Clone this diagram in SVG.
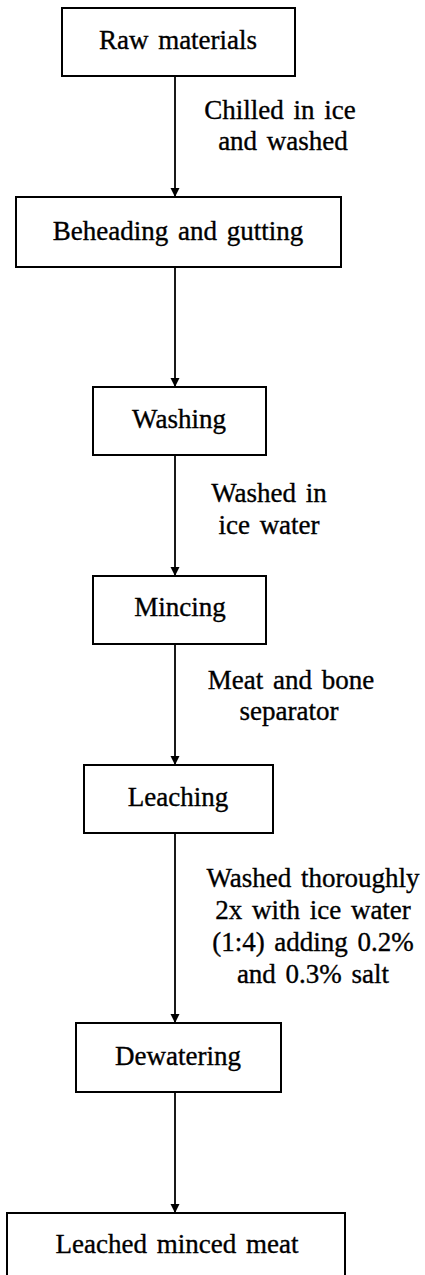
<svg xmlns="http://www.w3.org/2000/svg" width="425" height="1275" viewBox="0 0 425 1275">
  <style>
    .box { fill: #fff; stroke: #000; stroke-width: 2; }
    .lbl { font-family: "Liberation Serif", "Times New Roman", serif; font-size: 27px; fill: #000; stroke: #000; stroke-width: 0.35; text-anchor: middle; word-spacing: 3px; }
    .note { font-family: "Liberation Serif", "Times New Roman", serif; font-size: 27px; fill: #000; stroke: #000; stroke-width: 0.35; text-anchor: middle; word-spacing: 3px; }
    .conn { stroke: #000; stroke-width: 1.8; fill: none; marker-end: url(#arrow); }
  </style>
  <defs>
    <marker id="arrow" viewBox="0 0 10 10" refX="10" refY="5" markerUnits="userSpaceOnUse" markerWidth="9" markerHeight="11" orient="auto">
      <path d="M0,0 L10,5 L0,10 Z" fill="#000"/>
    </marker>
  </defs>
  <rect width="425" height="1275" fill="#fff"/>

  <!-- process-flow connectors -->
  <g id="connectors">
    <line class="conn" x1="175" y1="76" x2="175" y2="197"/>
    <line class="conn" x1="175" y1="267" x2="175" y2="387"/>
    <line class="conn" x1="175" y1="455" x2="175" y2="576"/>
    <line class="conn" x1="175" y1="644" x2="175" y2="765"/>
    <line class="conn" x1="175" y1="833" x2="175" y2="1023"/>
    <line class="conn" x1="175" y1="1092" x2="175" y2="1213"/>
  </g>

  <!-- step annotations -->
  <g id="notes">
    <text class="note" x="280" y="119">Chilled in ice</text>
    <text class="note" x="283" y="150">and washed</text>
    <text class="note" x="269" y="502">Washed in</text>
    <text class="note" x="269" y="534">ice water</text>
    <text class="note" x="291" y="689">Meat and bone</text>
    <text class="note" x="289" y="720">separator</text>
    <text class="note" x="313" y="887">Washed thoroughly</text>
    <text class="note" x="313" y="919">2x with ice water</text>
    <text class="note" x="313" y="951">(1:4) adding 0.2%</text>
    <text class="note" x="313" y="983">and 0.3% salt</text>
  </g>

  <!-- process steps -->
  <g id="raw-materials">
    <rect class="box" x="62" y="8" width="233" height="68"/>
    <text class="lbl" x="178" y="49">Raw materials</text>
  </g>
  <g id="beheading">
    <rect class="box" x="16" y="197" width="325" height="70"/>
    <text class="lbl" x="178" y="240">Beheading and gutting</text>
  </g>
  <g id="washing">
    <rect class="box" x="93" y="387" width="173" height="68"/>
    <text class="lbl" x="179" y="428">Washing</text>
  </g>
  <g id="mincing">
    <rect class="box" x="93" y="576" width="173" height="68"/>
    <text class="lbl" x="180" y="616">Mincing</text>
  </g>
  <g id="leaching">
    <rect class="box" x="84" y="765" width="189" height="68"/>
    <text class="lbl" x="178" y="806">Leaching</text>
  </g>
  <g id="dewatering">
    <rect class="box" x="76" y="1023" width="205" height="69"/>
    <text class="lbl" x="178" y="1065">Dewatering</text>
  </g>
  <g id="leached-minced-meat">
    <rect class="box" x="7" y="1213" width="338" height="80"/>
    <text class="lbl" x="177" y="1253">Leached minced meat</text>
  </g>
</svg>
